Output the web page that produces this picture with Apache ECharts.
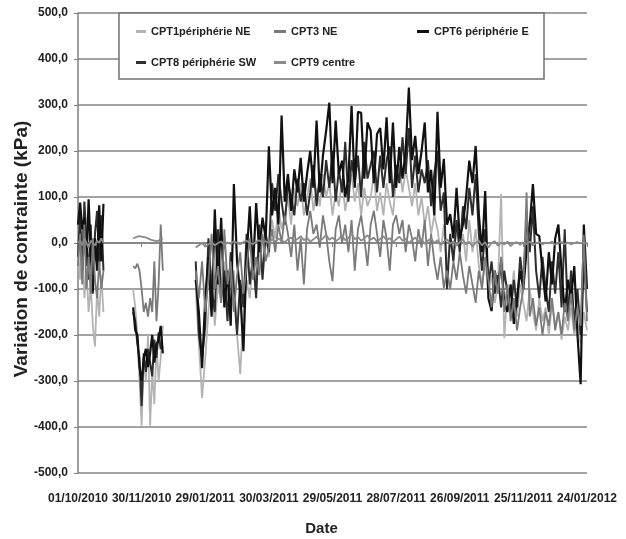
<!DOCTYPE html>
<html>
<head>
<meta charset="utf-8">
<script src="https://cdn.jsdelivr.net/npm/echarts@6/dist/echarts.min.js"></script>
<style>
  html, body { margin: 0; padding: 0; background: #fff; }
  #chart { width: 626px; height: 539px; }
</style>
</head>
<body>
<div id="chart"></div>
<script>
// Day offsets from 01/10/2010 (null rows mark the gaps between measuring campaigns)
const days = [
  0, 2, 4, 6, 8, 10, 12, 14, 16, 18, 20, 22, 24,
  38,
  52, 54, 56, 58, 60, 62, 64, 66, 68, 70, 72, 74, 76, 78, 80,
  96,
  111, 114, 117, 120, 123, 126, 129, 132, 135, 138,
  141, 144, 147, 150, 153, 156, 159, 162, 165, 168,
  171, 174, 177, 180, 183, 186, 189, 192, 195, 198,
  201, 204, 207, 210, 213, 216, 219, 222, 225, 228,
  231, 234, 237, 240, 243, 246, 249, 252, 255, 258,
  261, 264, 267, 270, 273, 276, 279, 282, 285, 288,
  291, 294, 297, 300, 303, 306, 309, 312, 315, 318,
  321, 324, 327, 330, 333, 336, 339, 342, 345, 348,
  351, 354, 357, 360, 363, 366, 369, 372, 375, 378,
  381, 384, 387, 390, 393, 396, 399, 402, 405, 408,
  411, 414, 417, 420, 423, 426, 429, 432, 435, 438,
  441, 444, 447, 450, 453, 456, 459, 462, 465, 468,
  471, 474, 477, 480
];

// Date labels of the x ticks (every 60 days)
const xTickLabels = ['01/10/2010', '30/11/2010', '29/01/2011', '30/03/2011', '29/05/2011',
                     '28/07/2011', '26/09/2011', '25/11/2011', '24/01/2012'];

// Stress variation (kPa) per sensor
const cpt1 = [
  -20, -80, 30, -120, -60, -150, -90, -180, -225, -100, -160, -70, -150,
  null,
  -100, -140, -200, -300, -397, -250, -300, -200, -397, -280, -350, -220, -300, -250, -180,
  null,
  -100, -220, -337, -250, -150, -60, -180, -90, -130, -40,
  -110, -160, -60, -200, -285, -150, -80, -120, -30, -90,
  -10, -60, 20, -30, 50, 10, 80, 30, 60, 100,
  40, 120, 80, 130, 60, 100, 140, 70, 120, 80,
  150, 100, 130, 60, 110, 80, 140, 70, 110, 150,
  90, 130, 60, 120, 80, 100, 150, 70, 110, 60,
  130, 90, 60, 140, 170, 110, 160, 120, 80, 130,
  60, 100, 40, 80, 20, 60, 30, -20, 40, -60,
  10, -30, 30, -10, 20, -40, 50, -20, 30, -50,
  -90, -40, -110, -70, -130, -90, 107, -207, -100, -140,
  -60, -160, -90, -130, -170, -100, -150, -190, -120, -170,
  -140, -200, -130, -180, -150, -210, -160, -190, -140, -200,
  -170, -220, -150, -190
];

const cpt3 = [
  -50, 20, -90, 40, -100, -30, -110, 10, -80, -120, -40, -100, -60,
  null,
  -50, -55, -45, -60, -100, -150, -130, -160, -120, -150, -40, -170, -90, 40, -60,
  null,
  -60, -120, -40, -150, -80, 20, -100, -50, -130, 30,
  -90, -40, -150, -70, -20, -110, -50, 10, -80, -30,
  -70, 20, -40, -10, 30, -20, 40, 0, 60, 20,
  -30, 40, -60, 10, -90, 30, 70, 20, 40, -10,
  60, 20, -40, -83, 30, 60, 0, 40, -20, 50,
  -60, 30, 60, 10, -50, 40, 70, 20, -30, 50,
  10, -60, 40, 60, 20, 50, -20, 40, 10, -40,
  30, -10, 50, -50, 20, -40, -80, -30, -98, -60,
  -100, -40, -80, -20, -70, -110, -50, -90, -130, -60,
  -100, -30, -80, -140, -60, -110, -30, -150, -90, -170,
  -120, -190, -140, -100, 110, -160, -120, -180, -140, -200,
  -150, -180, -120, -190, -150, -200, -130, -170, -110, -190,
  -140, -180, 18, -170
];

const cpt6 = [
  40, 88, 30, 55, -50, 95, -20, -105, 10, -60, 82, -40, 85,
  null,
  -140, -190, -200, -270, -300, -250, -230, -270, -240, -200, -260, -220, -210, -180, -240,
  null,
  -80, -150, -272, -120, -30, -160, 73, -90, 55, -140,
  -60, -180, 128, -40, -110, -235, -30, 80, -60, 87,
  -20, 55, 10, 210, 60, 120, 40, 277, 90, 150,
  70, 160, 110, 185, 90, 150, 200, 120, 266, 110,
  190, 244, 305, 130, 266, 150, 179, 100, 140, 298,
  120, 285, 283, 140, 262, 244, 130, 237, 250, 160,
  273, 130, 262, 120, 209, 140, 200, 338, 180, 233,
  150, 200, 262, 110, 159, 60, 285, 120, 183, 40,
  63, 10, 120, 10, 40, 100, 179, 130, 211, 63,
  -20, 113, -120, -148, -60, -100, -40, -130, -150, -90,
  -176, -120, -60, -100, -15, 40, 128, 20, 15, -60,
  -127, -20, -90, 10, 40, -60, -150, -80, -120, -50,
  -199, -307, 40, -100
];

const cpt8 = [
  -30, 60, -60, 90, 10, -80, 40, -110, 20, 70, -50, 60, -60,
  null,
  -150, -170, -220, -250, -355, -240, -280, -230, -260, -290, -210, -250, -195, -230, -225,
  null,
  -40, -200, -250, -180, 10, -100, -150, 30, -120, -60,
  -170, -20, -100, -200, -80, -140, 20, -90, -30, -120,
  40, -80, 20, -20, 130, 70, 150, 90, 40, 130,
  100, 60, 140, 90, 130, 60, 110, 170, 80, 150,
  100, 180, 120, 200, 90, 160, 110, 220, 90, 180,
  130, 190, 100, 220, 140, 170, 200, 110, 190, 120,
  180, 210, 100, 170, 130, 230, 150, 250, 120, 190,
  110, 160, 130, 180, 80, 150, 200, 70, 110, -100,
  20, -40, 50, -20, 80, 30, 120, 60, 150, 20,
  -60, 30, -90, -40, -110, -70, -140, -60, -110, -150,
  -80, -140, -30, -90, 60, -20, 80, -60, -120, -30,
  -100, -150, -40, -110, -20, -140, 30, -160, -60, -180,
  -100, -200, -30, -150
];

const cpt9 = [
  0, 5, -5, 10, 0, -10, 5, 0, -5, 5, 0, 10, 0,
  null,
  10, 12, 14, 15, 14, 13, 12, 10, 8, 6, 5, 4, 5, 8, 10,
  null,
  -10, -5, 0, -8, -3, 2, -5, 0, 3, -4,
  1, -2, 4, 0, -3, 2, 5, 0, -2, 3,
  6, 1, 4, 0, 8, 3, 10, 5, 2, 8,
  12, 4, 9, 15, 6, 11, 3, 8, 14, 5,
  10, 18, 7, 12, 4, 9, 16, 6, 11, 20,
  8, 13, 5, 10, 17, 7, 12, 3, 9, 15,
  6, 11, 2, 8, 14, 5, 10, 0, 6, 12,
  3, 8, -2, 5, 10, 0, 6, -4, 3, 8,
  -2, 4, -6, 2, 7, -3, 3, -8, 1, 5,
  -5, 2, -10, 0, 4, -6, 1, -3, 3, -7,
  0, 2, -4, 1, -2, 3, -5, 0, 2, -3,
  1, -1, 3, -4, 0, 2, -2, 1, -3, 0,
  2, -1, 1, -2
];

const names = ['CPT1périphérie NE', 'CPT3 NE', 'CPT6 périphérie E', 'CPT8 périphérie SW', 'CPT9 centre'];

[cpt1, cpt3, cpt6, cpt8, cpt9].forEach((arr, k) => {
  if (arr.length !== days.length) throw new Error(names[k] + ': ' + arr.length + ' values for ' + days.length + ' days');
});

const FONT = "'Liberation Sans', Arial, sans-serif";
const pairs = arr => days.map((d, i) => [d, arr[i]]);

function lineSeries(name, arr, color, width, z) {
  return {
    name: name,
    type: 'line',
    data: pairs(arr),
    showSymbol: false,
    connectNulls: false,
    z: z,
    lineStyle: { color: color, width: width },
    itemStyle: { color: color }
  };
}

const legendBase = {
  orient: 'vertical',
  top: 21,
  itemGap: 20,
  itemHeight: 3,
  icon: 'rect',
  textStyle: { fontFamily: FONT, fontWeight: 'bold', fontSize: 11, color: '#222' }
};

const chart = echarts.init(document.getElementById('chart'), null, { renderer: 'canvas' });
chart.setOption({
  animation: false,
  backgroundColor: '#ffffff',
  grid: { left: 78, right: 39, top: 13, bottom: 66, outerBoundsMode: 'none', containLabel: false },
  graphic: [{
    type: 'rect',
    z: 3,
    shape: { x: 119, y: 13, width: 425, height: 66 },
    style: { fill: '#ffffff', stroke: '#707070', lineWidth: 1.5 }
  }],
  legend: [
    Object.assign({}, legendBase, { left: 131, itemWidth: 10, data: [names[0], names[3]] }),
    Object.assign({}, legendBase, { left: 269, itemWidth: 12, data: [names[1], names[4]] }),
    Object.assign({}, legendBase, { left: 412, itemWidth: 12, data: [names[2]] })
  ],
  xAxis: {
    type: 'value',
    min: 0,
    max: 480,
    interval: 60,
    name: 'Date',
    nameLocation: 'middle',
    nameGap: 48,
    nameMoveOverlap: false,
    nameTextStyle: { fontFamily: FONT, fontWeight: 'bold', fontSize: 15, color: '#222', padding: [0, 22, 0, 0] },
    axisLine: { lineStyle: { color: '#808080', width: 1.5 } },
    axisTick: { show: true, length: 4, lineStyle: { color: '#808080' } },
    axisLabel: {
      margin: 20,
      hideOverlap: false,
      showMinLabel: true,
      showMaxLabel: true,
      fontFamily: FONT, fontWeight: 'bold', fontSize: 12, color: '#222',
      formatter: v => xTickLabels[Math.round(v / 60)]
    },
    splitLine: { show: false }
  },
  yAxis: {
    type: 'value',
    min: -500,
    max: 500,
    interval: 100,
    name: 'Variation de contrainte (kPa)',
    nameLocation: 'middle',
    nameGap: 47,
    nameRotate: 90,
    nameMoveOverlap: false,
    nameTextStyle: { fontFamily: FONT, fontWeight: 'bold', fontSize: 19, color: '#222', padding: [0, 12, 0, 0] },
    axisLine: { show: true, lineStyle: { color: '#808080', width: 1.5 } },
    axisTick: { show: true, length: 4, lineStyle: { color: '#808080' } },
    axisLabel: {
      margin: 10,
      fontFamily: FONT, fontWeight: 'bold', fontSize: 12, color: '#222',
      formatter: v => v.toFixed(1).replace('.', ',')
    },
    splitLine: { show: true, lineStyle: { color: '#858585', width: 1.6 } }
  },
  series: [
    lineSeries(names[0], cpt1, '#b3b3b3', 1.8, 2),
    lineSeries(names[1], cpt3, '#7a7a7a', 1.8, 5),
    lineSeries(names[2], cpt6, '#111111', 2.2, 3),
    lineSeries(names[3], cpt8, '#2e2e2e', 2, 2.5),
    lineSeries(names[4], cpt9, '#8a8a8a', 1.8, 6)
  ]
});
</script>
</body>
</html>
